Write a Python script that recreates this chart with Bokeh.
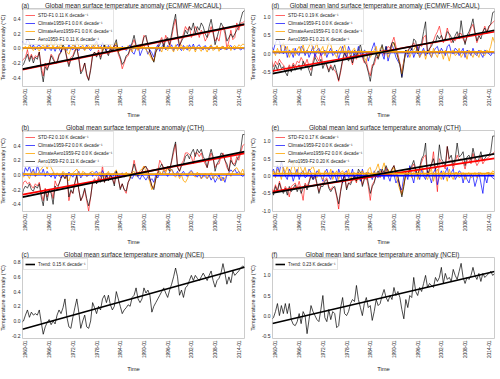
import numpy as np
from bokeh.plotting import figure
from bokeh.models import FixedTicker, PrintfTickFormatter, Legend, LegendItem, Range1d
from bokeh.layouts import column, row
from bokeh.embed import file_html
from bokeh.resources import INLINE

FONT = "Liberation Sans"
TXT = "#262626"

# ---------------- data ----------------
first_year = 1959.0          # half-yearly samples, 1959.0 ... 2015.5
step_years = 0.5
x_limits = (1959.25, 2015.45)
tick_years = [1960, 1966, 1972, 1978, 1984, 1990, 1996, 2002, 2008, 2014]
tick_labels = ["1960-01", "1966-01", "1972-01", "1978-01", "1984-01",
               "1990-01", "1996-01", "2002-01", "2008-01", "2014-01"]

# (a) ECMWF-McCAUL global
a_std = [-0.18,-0.15,-0.12,-0.02,-0.15,-0.08,-0.15,-0.10,-0.12,-0.05,-0.25,-0.38,
         -0.20,-0.28,-0.20,-0.08,-0.12,-0.20,-0.18,-0.08,-0.05,0.02,-0.02,-0.12,
         -0.22,-0.12,-0.10,-0.02,0.00,-0.12,-0.32,-0.28,-0.20,-0.38,-0.43,-0.28,
         -0.08,-0.05,-0.10,-0.02,-0.12,0.00,0.02,-0.05,-0.08,0.00,-0.02,0.05,
         0.03,-0.08,-0.15,-0.28,-0.20,-0.12,-0.10,-0.02,0.05,0.12,0.03,-0.02,
         0.00,0.05,0.18,0.15,0.05,-0.05,-0.12,-0.17,-0.05,0.02,0.10,0.15,
         0.05,0.18,0.12,0.02,0.15,0.30,0.40,0.15,0.02,0.12,0.20,0.30,
         0.25,0.30,0.15,0.20,0.30,0.25,0.15,0.25,0.20,0.10,0.15,0.20,
         0.30,0.20,0.10,0.15,0.10,0.25,0.30,0.20,0.00,0.10,0.25,0.12,
         0.15,0.35,0.25,0.35,0.35,0.38]
a_clim = [0.10,0.08,0.05,0.13,0.08,0.00,0.05,-0.02,0.03,0.05,0.00,0.02,
          -0.03,0.04,0.00,-0.03,0.02,-0.04,0.03,0.00,-0.05,0.02,0.00,-0.03,
          0.05,0.00,-0.02,0.04,0.00,-0.03,0.03,0.00,-0.02,0.05,0.00,-0.03,
          0.02,0.06,0.10,0.03,0.00,0.08,0.02,-0.03,0.04,0.00,-0.04,0.03,
          0.05,0.00,-0.02,0.03,0.00,-0.03,0.02,0.05,-0.05,-0.08,0.00,0.05,
          -0.10,-0.03,0.02,0.00,-0.08,-0.02,-0.06,-0.12,0.00,0.05,-0.04,0.02,
          0.06,-0.02,0.04,0.00,0.05,-0.03,0.02,0.06,0.00,-0.03,0.04,0.00,
          -0.02,0.05,0.00,0.06,-0.02,0.03,0.05,0.00,-0.02,0.04,0.00,-0.02,
          0.04,0.00,-0.01,0.03,0.00,-0.02,0.03,0.00,-0.02,0.02,0.04,0.00,
          -0.02,0.02,0.00,-0.02,0.00,-0.01]
a_climaero = [-0.05,0.00,0.03,-0.02,0.05,0.00,-0.03,0.02,0.00,-0.04,0.02,0.05,
              0.00,0.07,0.03,0.10,0.00,0.10,0.05,0.00,0.08,-0.02,0.02,-0.05,
              -0.08,0.00,0.05,0.02,0.12,0.03,0.00,0.05,-0.03,0.02,0.04,0.00,
              0.06,0.02,0.08,0.00,0.03,-0.03,0.05,0.02,0.00,0.04,-0.02,0.03,
              0.08,-0.05,-0.03,0.00,0.02,-0.02,0.04,0.00,-0.05,0.05,0.00,-0.03,
              0.06,0.02,0.04,-0.02,-0.05,-0.10,-0.15,-0.18,-0.03,0.02,0.00,-0.05,
              0.05,0.00,-0.03,0.04,0.00,-0.05,0.05,-0.03,0.02,0.05,-0.03,0.02,
              0.04,-0.04,0.00,0.03,-0.05,0.02,0.00,-0.04,0.03,0.00,-0.05,0.02,
              0.05,-0.03,0.00,0.04,-0.04,0.02,0.03,-0.02,0.00,0.05,-0.03,0.02,
              0.04,0.00,0.05,0.03,0.06,0.05]
a_aero = [-0.25,-0.22,-0.15,-0.08,-0.18,-0.10,-0.20,-0.12,-0.15,-0.05,-0.30,-0.46,
          -0.25,-0.30,-0.22,-0.10,-0.15,-0.20,-0.20,-0.10,-0.05,0.05,0.00,-0.15,
          -0.25,-0.15,-0.12,-0.05,0.02,-0.15,-0.35,-0.30,-0.20,-0.35,-0.44,-0.30,
          -0.10,-0.05,-0.12,-0.05,-0.15,-0.05,0.05,-0.05,-0.10,0.00,-0.05,0.05,
          0.12,-0.05,-0.12,-0.22,-0.18,-0.10,-0.08,0.00,0.08,0.18,0.05,0.00,
          0.02,0.05,0.15,0.18,0.05,-0.05,-0.12,-0.19,-0.05,0.00,0.05,0.12,
          0.02,0.12,0.15,0.05,0.20,0.35,0.47,0.20,0.04,0.10,0.15,0.25,
          0.20,0.30,0.25,0.35,0.20,0.30,0.25,0.35,0.30,0.20,0.15,0.30,
          0.40,0.25,0.05,0.15,0.25,0.35,0.30,0.25,0.10,0.15,0.20,0.15,
          0.20,0.25,0.30,0.40,0.50,0.52]

# (b) CTH global
b_std = [-0.20,-0.10,-0.08,-0.12,-0.10,-0.15,-0.18,-0.12,-0.15,-0.10,-0.25,-0.35,
         -0.18,-0.30,-0.20,-0.20,-0.32,-0.08,-0.15,-0.12,-0.03,0.00,-0.05,0.00,
         -0.35,-0.22,-0.25,-0.12,-0.02,-0.20,-0.35,-0.30,-0.20,-0.35,-0.49,-0.30,
         -0.10,-0.05,-0.12,-0.02,-0.08,0.13,-0.10,0.02,-0.05,0.00,-0.05,-0.12,
         0.03,-0.05,-0.18,-0.12,-0.20,-0.25,-0.10,-0.03,0.05,0.20,0.08,0.00,
         0.00,0.05,0.12,0.10,0.08,-0.05,-0.15,-0.18,-0.05,0.05,0.20,0.15,
         0.10,0.05,0.12,0.08,0.18,0.30,0.42,0.12,0.05,0.15,0.20,0.30,
         0.30,0.28,0.25,0.15,0.30,0.30,0.25,0.30,0.20,0.15,0.10,0.20,
         0.30,0.22,0.10,0.15,0.15,0.25,0.30,0.20,0.10,0.05,0.25,0.15,
         0.15,0.25,0.20,0.30,0.40,0.42]
b_clim = [0.05,0.00,0.10,0.05,0.12,0.02,0.08,-0.02,0.13,0.05,0.00,0.08,
          -0.02,0.05,0.00,-0.03,0.03,-0.05,0.02,0.00,-0.04,0.03,0.00,-0.02,
          0.04,0.00,-0.03,0.02,0.00,0.05,-0.04,0.00,0.03,-0.02,0.00,0.04,
          -0.02,0.03,0.05,0.00,-0.02,0.06,0.00,-0.03,0.03,0.00,-0.04,0.02,
          0.05,-0.02,0.00,0.03,-0.03,0.00,0.02,-0.02,-0.05,0.00,0.03,-0.03,
          -0.06,0.00,-0.03,-0.07,-0.02,-0.08,-0.05,-0.10,0.00,-0.04,0.03,0.00,
          0.06,0.02,-0.02,0.04,0.08,0.03,0.00,0.05,-0.02,0.02,0.05,0.00,
          -0.02,0.04,0.06,0.02,0.00,-0.03,0.02,-0.05,0.00,-0.02,-0.05,0.00,
          -0.07,-0.02,-0.10,-0.05,0.00,-0.08,-0.03,-0.10,0.00,0.03,0.07,0.04,
          0.08,0.02,0.05,0.00,-0.02,0.00]
b_climaero = [0.00,-0.03,0.02,0.00,-0.05,0.03,0.05,-0.02,0.00,0.05,0.08,0.12,
              0.15,0.08,0.17,0.10,0.05,0.00,0.03,-0.02,0.00,0.05,0.02,-0.05,
              -0.08,0.00,0.03,0.05,0.08,0.02,-0.02,0.05,0.03,-0.02,0.00,0.04,
              0.05,0.02,-0.02,0.03,0.04,0.00,-0.03,0.02,0.05,-0.02,0.00,0.03,
              0.07,-0.03,0.00,0.02,-0.03,0.04,0.00,-0.04,0.03,0.05,-0.02,0.02,
              0.06,0.08,0.12,0.05,0.00,-0.10,-0.20,-0.15,-0.05,0.02,0.05,0.00,
              0.08,0.03,0.10,0.05,0.08,0.00,-0.03,0.03,-0.05,0.00,-0.08,-0.10,
              -0.05,0.02,0.05,0.00,-0.03,0.04,0.00,-0.05,-0.03,0.02,-0.05,0.00,
              0.03,-0.05,0.00,-0.03,-0.06,-0.02,-0.08,-0.04,0.00,0.03,-0.02,0.05,
              0.08,0.10,0.05,0.02,0.08,0.00]
b_aero = [-0.30,-0.20,-0.15,-0.18,-0.12,-0.20,-0.22,-0.15,-0.18,-0.12,-0.30,-0.42,
          -0.20,-0.35,-0.20,-0.25,-0.40,-0.15,-0.20,-0.12,-0.05,0.00,-0.05,0.02,
          -0.30,-0.20,-0.25,-0.10,0.00,-0.20,-0.35,-0.28,-0.18,-0.32,-0.42,-0.30,
          -0.10,-0.08,-0.12,-0.05,-0.10,0.02,-0.10,0.00,-0.08,0.00,-0.05,-0.15,
          0.05,-0.05,-0.20,-0.12,-0.20,-0.22,-0.10,-0.05,0.05,0.15,0.05,-0.02,
          0.02,0.05,0.10,0.12,0.05,-0.05,-0.15,-0.20,-0.05,0.02,0.10,0.15,
          0.08,0.10,0.10,0.05,0.20,0.35,0.45,0.10,0.05,0.12,0.15,0.25,
          0.28,0.22,0.30,0.35,0.25,0.35,0.30,0.35,0.25,0.20,0.10,0.25,
          0.35,0.25,0.05,0.15,0.20,0.30,0.28,0.20,0.15,0.05,0.20,0.15,
          0.12,0.20,0.25,0.35,0.55,0.55]

# (c) NCEI global
c_obs = [-0.02,0.00,0.08,0.15,0.05,0.12,0.08,0.10,0.08,0.15,-0.02,-0.18,
         -0.08,-0.02,0.02,-0.05,0.00,-0.04,0.08,0.15,0.10,0.18,0.30,0.05,
         -0.08,-0.10,0.05,0.18,0.30,0.12,-0.10,0.00,0.08,-0.08,-0.10,0.00,
         0.25,0.18,0.10,0.20,0.15,0.30,0.35,0.25,0.35,0.22,0.15,0.20,
         0.40,0.30,0.20,0.10,0.15,0.18,0.22,0.20,0.32,0.35,0.45,0.30,
         0.25,0.30,0.45,0.38,0.42,0.35,0.12,0.20,0.25,0.30,0.35,0.40,
         0.45,0.38,0.32,0.42,0.50,0.60,0.72,0.60,0.35,0.42,0.32,0.45,
         0.48,0.55,0.62,0.55,0.62,0.58,0.55,0.60,0.65,0.60,0.55,0.62,
         0.68,0.55,0.46,0.55,0.58,0.65,0.78,0.65,0.50,0.60,0.52,0.68,
         0.62,0.65,0.68,0.72,0.75,0.72]

# (d) ECMWF-McCAUL land
d_std = [-0.15,-0.35,-0.20,-0.30,-0.15,-0.25,-0.30,-0.40,-0.45,-0.30,-0.40,-0.25,
         -0.35,-0.20,-0.25,-0.10,-0.20,-0.30,-0.15,-0.35,-0.45,-0.20,0.00,-0.10,
         -0.20,0.05,-0.30,-0.20,-0.35,-0.45,-0.30,-0.40,-0.45,-0.55,-0.75,-0.50,
         -0.20,0.00,0.05,-0.15,-0.10,-0.30,-0.05,-0.15,0.00,0.05,-0.10,-0.25,
         -0.20,-0.45,-0.60,-0.30,-0.30,-0.10,-0.10,0.00,0.10,-0.05,0.10,0.20,
         0.15,0.30,0.45,0.20,0.00,-0.25,-0.50,-0.20,0.05,0.10,0.15,0.20,
         0.30,0.20,0.10,0.25,0.20,0.45,0.50,0.05,0.10,0.30,0.35,0.50,
         0.60,0.75,0.50,0.30,0.45,0.70,0.50,0.30,0.40,0.35,0.50,0.55,
         0.55,0.40,0.30,0.45,0.50,0.70,0.80,0.55,0.30,0.45,0.50,0.60,
         0.75,0.60,0.70,0.80,0.85,0.90]
d_clim = [0.20,0.10,0.30,0.40,0.35,0.10,0.00,0.20,-0.10,0.10,0.05,-0.10,
          0.15,0.00,-0.05,0.20,0.15,-0.05,0.10,-0.10,0.05,0.20,-0.10,0.10,
          0.15,-0.05,0.00,0.10,-0.10,0.05,0.15,-0.05,0.00,0.10,-0.15,0.05,
          0.20,0.00,-0.10,0.20,0.05,-0.15,0.10,-0.05,0.20,0.00,-0.10,0.10,
          0.05,-0.20,0.00,0.15,0.30,0.05,-0.10,0.10,0.00,-0.15,0.20,-0.20,
          0.00,0.25,0.10,-0.10,-0.20,-0.30,-0.62,-0.20,0.10,-0.10,0.05,0.15,
          -0.10,0.05,0.20,-0.10,0.05,0.15,-0.05,0.10,0.00,-0.10,0.05,0.15,
          0.20,0.00,0.15,0.05,-0.05,0.20,0.25,0.05,0.00,0.15,0.10,-0.05,
          0.05,0.15,-0.10,0.10,0.05,-0.05,0.15,0.00,-0.05,0.10,0.00,-0.10,
          0.10,0.05,0.00,-0.05,0.05,0.00]
d_climaero = [0.00,0.10,-0.05,0.15,0.00,0.20,0.30,0.10,0.20,-0.10,0.05,0.15,
              -0.05,0.10,0.20,0.05,0.25,0.00,0.10,0.20,0.35,0.10,0.15,0.30,
              0.00,0.10,0.20,-0.05,0.10,0.30,0.25,0.05,0.00,-0.10,0.10,0.20,
              0.05,0.25,0.00,0.10,-0.10,0.10,0.15,0.00,-0.05,0.10,0.05,-0.10,
              -0.20,0.05,-0.10,0.00,0.10,0.20,-0.10,0.15,0.20,0.00,0.10,-0.10,
              0.05,0.20,0.30,0.10,-0.10,-0.30,-0.55,-0.20,0.00,0.10,-0.10,0.05,
              0.10,0.20,0.05,-0.10,0.00,0.10,-0.15,0.05,0.10,-0.10,0.15,0.00,
              -0.10,0.10,0.05,-0.15,0.10,0.00,-0.20,0.05,0.10,-0.05,0.00,0.15,
              -0.10,0.00,0.05,-0.15,0.10,0.00,-0.10,0.05,0.00,-0.10,0.10,0.00,
              -0.05,0.10,0.05,0.20,0.45,0.30]
d_aero = [-0.20,-0.50,-0.30,-0.45,-0.25,-0.40,-0.35,-0.50,-0.60,-0.35,-0.50,-0.30,
          -0.45,-0.35,-0.30,-0.45,-0.20,-0.35,-0.30,-0.45,-0.60,-0.30,-0.10,-0.20,
          -0.30,-0.15,-0.40,-0.25,-0.30,-0.50,-0.35,-0.45,-0.30,-0.50,-0.72,-0.45,
          -0.15,0.05,-0.10,-0.20,-0.05,-0.25,0.00,-0.10,0.10,0.25,0.00,-0.20,
          -0.30,-0.50,-0.75,-0.40,-0.20,0.00,-0.15,0.05,0.25,0.00,0.20,0.00,
          0.10,0.30,0.30,0.10,-0.10,-0.30,-0.65,-0.30,0.10,0.00,0.20,0.10,
          0.40,0.35,0.00,0.20,0.30,0.60,0.87,0.00,0.15,0.20,0.35,0.30,
          0.50,0.40,0.50,0.35,0.40,0.60,0.55,0.45,0.30,0.50,0.60,0.40,
          0.90,0.50,0.25,0.50,0.60,0.75,0.95,0.60,0.35,0.50,0.40,0.60,
          0.70,0.55,0.75,0.80,1.12,1.15]

# (e) CTH land
e_std = [-0.35,-0.45,-0.25,-0.40,-0.15,-0.35,-0.45,-0.30,-0.40,-0.60,-0.30,-0.25,
         -0.20,-0.35,-0.15,-0.40,-0.70,-0.20,-0.30,-0.15,0.05,-0.05,0.00,-0.25,
         -0.45,-0.25,-0.20,-0.10,-0.05,-0.30,-0.40,-0.30,-0.35,-0.60,-0.95,-0.40,
         -0.10,0.00,-0.35,-0.20,-0.20,0.05,-0.05,-0.20,0.10,0.00,-0.25,-0.05,
         0.00,-0.30,-0.70,-0.25,-0.15,0.00,0.10,-0.05,0.15,0.00,0.25,0.10,
         0.05,0.20,0.30,0.05,-0.05,-0.25,-0.50,-0.25,0.05,0.05,0.15,0.25,
         0.35,0.15,0.05,0.20,0.40,0.55,0.60,0.05,0.15,0.30,0.70,0.10,
         -0.45,0.50,0.40,0.30,0.20,0.85,0.40,0.45,0.20,0.40,0.60,0.45,
         0.50,0.40,0.20,0.45,0.50,0.35,0.65,0.45,0.30,0.40,0.55,0.35,
         0.45,0.50,0.55,0.60,0.65,0.70]
e_clim = [0.10,0.20,0.00,0.30,0.10,0.43,0.20,0.00,-0.10,0.20,0.10,-0.15,
          0.05,0.20,-0.10,0.10,0.15,-0.05,0.00,0.20,0.10,-0.10,-0.05,0.15,
          0.10,0.00,-0.15,0.10,0.20,0.00,-0.10,0.15,0.05,-0.15,0.20,0.05,
          -0.20,0.10,0.15,-0.05,0.00,0.20,-0.10,0.05,0.10,-0.15,0.20,0.00,
          -0.10,0.10,0.05,-0.10,0.15,0.00,-0.05,0.20,0.10,-0.10,0.20,0.00,
          -0.15,0.10,0.05,-0.20,-0.10,-0.30,-0.40,0.00,0.10,-0.10,0.30,0.00,
          -0.20,0.15,0.05,-0.10,0.20,0.00,-0.10,0.15,0.00,-0.20,0.10,0.20,
          -0.25,0.00,0.15,-0.10,0.10,0.25,-0.05,0.10,0.20,-0.10,0.00,0.15,
          0.10,-0.20,0.05,-0.10,-0.20,0.05,0.00,-0.30,-0.10,0.10,-0.20,-0.50,
          0.00,-0.20,0.10,0.00,-0.05,-0.10]
e_climaero = [0.00,0.15,-0.05,0.20,0.10,-0.10,0.25,0.10,0.30,0.00,0.20,0.40,
              0.15,0.00,0.40,0.20,0.10,0.25,0.00,0.15,0.20,0.30,0.10,-0.05,
              0.20,0.00,-0.10,0.15,0.10,0.00,0.20,-0.10,0.05,0.15,-0.10,0.10,
              0.15,0.00,0.05,0.20,-0.10,0.05,0.10,-0.15,0.00,0.10,0.15,-0.05,
              -0.10,0.20,0.25,0.00,0.10,0.20,0.35,0.10,0.20,0.38,0.10,0.20,
              0.00,0.15,0.25,0.00,-0.20,-0.40,-0.55,-0.20,0.00,0.10,0.15,-0.05,
              0.10,0.20,-0.10,0.10,0.30,0.10,0.00,-0.10,0.10,0.20,-0.15,0.10,
              0.20,0.00,-0.10,0.15,0.05,-0.15,0.20,0.00,-0.10,0.10,0.10,-0.05,
              0.00,0.10,-0.10,0.05,0.10,-0.05,0.00,0.10,-0.05,0.05,0.10,0.00,
              0.05,0.10,0.10,0.05,0.15,0.10]
e_aero = [-0.40,-0.55,-0.30,-0.45,-0.20,-0.40,-0.50,-0.35,-0.55,-0.30,-0.45,-0.35,
          -0.25,-0.45,-0.30,-0.50,-0.35,-0.25,-0.40,-0.20,0.00,-0.10,0.05,-0.20,
          -0.50,-0.30,-0.30,-0.15,-0.10,-0.35,-0.45,-0.35,-0.30,-0.55,-0.80,-0.45,
          -0.15,0.05,-0.40,-0.20,-0.25,-0.10,0.00,-0.15,0.20,0.10,-0.30,-0.10,
          0.10,-0.20,-0.50,-0.30,-0.20,0.05,0.15,0.00,0.20,0.10,0.30,0.15,
          0.10,0.20,0.30,0.10,0.00,-0.30,-0.60,-0.30,0.10,0.00,0.20,0.30,
          0.45,0.20,0.00,0.25,0.50,0.60,0.95,0.00,0.20,0.35,0.50,0.20,
          0.30,0.90,0.50,0.40,0.30,0.85,0.50,0.60,0.30,0.50,0.95,0.55,
          0.60,0.70,0.30,0.55,0.60,0.45,0.80,0.55,0.40,0.50,0.70,0.45,
          0.50,0.60,0.60,0.70,1.15,1.15]

# (f) NCEI land
f_obs = [-0.10,-0.05,0.10,0.30,0.00,0.25,0.05,0.30,0.05,0.30,-0.10,-0.22,
         -0.25,-0.15,0.05,-0.20,0.10,0.00,-0.45,-0.10,0.25,0.10,0.00,-0.10,
         -0.15,0.15,0.50,-0.05,-0.15,0.15,-0.10,0.10,0.05,-0.30,-0.25,0.20,
         0.45,0.05,0.00,0.10,0.30,0.40,0.35,0.75,0.40,0.20,0.00,0.30,
         0.45,0.20,0.25,-0.12,0.10,0.40,0.25,0.30,0.50,0.65,0.45,0.35,
         0.50,0.40,0.70,0.50,0.60,0.45,0.15,-0.08,0.40,0.20,0.50,0.45,
         0.95,0.60,0.50,0.70,0.60,0.80,1.00,0.70,0.80,0.75,0.70,0.95,
         0.85,0.95,1.20,0.80,1.05,0.90,0.95,0.85,1.15,1.00,0.90,1.10,
         1.30,0.95,0.80,0.95,0.90,1.00,1.20,1.00,0.90,1.05,0.85,1.05,
         0.95,1.00,1.05,1.10,1.00,1.05]

# legend texts and decadal trends (K / decade)
labels_a = ["STD-F1 0.11 K decade⁻¹", "Climate1959-F1 0.0 K decade⁻¹",
            "ClimateAero1959-F1 0.0 K decade⁻¹", "Aero1959-F1 0.11 K decade⁻¹"]
slopes_a = [0.11, 0.0, 0.0, 0.11]
labels_b = ["STD-F2 0.10 K decade⁻¹", "Climate1959-F2 0.0 K decade⁻¹",
            "ClimateAero1959-F2 0.0 K decade⁻¹", "Aero1959-F2 0.11 K decade⁻¹"]
slopes_b = [0.10, 0.0, 0.0, 0.11]
labels_d = ["STD-F1 0.19 K decade⁻¹", "Climate1959-F1 0.0 K decade⁻¹",
            "ClimateAero1959-F1 0.0 K decade⁻¹", "Aero1959-F1 0.21 K decade⁻¹"]
slopes_d = [0.19, 0.0, 0.0, 0.21]
labels_e = ["STD-F2 0.17 K decade⁻¹", "Climate1959-F2 0.0 K decade⁻¹",
            "ClimateAero1959-F2 0.0 K decade⁻¹", "Aero1959-F2 0.20 K decade⁻¹"]
slopes_e = [0.17, 0.0, 0.0, 0.20]
labels_c = ["Trend: 0.15 K decade⁻¹"]
slopes_c = [0.15]
labels_f = ["Trend: 0.23 K decade⁻¹"]
slopes_f = [0.23]

titles = {
    "a": "Global mean surface temperature anomaly (ECMWF-McCAUL)",
    "b": "Global mean surface temperature anomaly (CTH)",
    "c": "Global mean surface temperature anomaly (NCEI)",
    "d": "Global mean land surface temperature anomaly (ECMWF-McCAUL)",
    "e": "Global mean land surface temperature anomaly (CTH)",
    "f": "Global mean land surface temperature anomaly (NCEI)",
}
# non-breaking spaces between the panel letter and its (visually centred) title
title_gap = {"a": 9, "b": 21, "c": 20, "d": 6, "e": 17, "f": 16}

for s in [a_std, a_clim, a_climaero, a_aero, b_std, b_clim, b_climaero, b_aero, c_obs,
          d_std, d_clim, d_climaero, d_aero, e_std, e_clim, e_climaero, e_aero, f_obs]:
    assert len(s) == 114, len(s)

SER_COLORS = ["#ff0000", "#0000ff", "#ffa500", "#000000"]
SER_ALPHA = [0.6, 0.7, 0.8, 0.65]
TREND_COLORS = ["#ff0000", "#0000ff", "#ffa500", "#000000"]


def make_panel(letter, series, labels, slopes, ylim, yticks, height, btop, bbot,
               time_standoff, obs=False):
    p = figure(width=250, height=height, output_backend="svg", toolbar_location=None,
               x_range=Range1d(*x_limits), y_range=Range1d(*ylim),
               min_border_left=24, min_border_right=2,
               min_border_top=btop, min_border_bottom=bbot)
    p.title.text = "(%s)" % letter + "\u00a0" * title_gap[letter] + titles[letter]
    p.title.align = "left"
    p.title.offset = -1
    p.title.standoff = 0
    p.title.text_font = FONT
    p.title.text_font_size = "6.3px"
    p.title.text_font_style = "normal"
    p.title.text_color = TXT
    p.xgrid.visible = False
    p.ygrid.visible = False
    p.outline_line_color = "#cccccc"
    p.outline_line_width = 1
    for ax in (p.xaxis[0], p.yaxis[0]):
        ax.axis_line_color = None
        ax.major_tick_line_color = None
        ax.minor_tick_line_color = None
        ax.major_tick_in = 0
        ax.major_tick_out = 0
        ax.minor_tick_in = 0
        ax.minor_tick_out = 0
        ax.major_label_text_font = FONT
        ax.major_label_text_color = TXT
        ax.axis_label_text_font = FONT
        ax.axis_label_text_font_style = "normal"
        ax.axis_label_text_color = TXT
    xa = p.xaxis[0]
    xa.ticker = FixedTicker(ticks=tick_years)
    xa.major_label_overrides = {y: l for y, l in zip(tick_years, tick_labels)}
    xa.major_label_orientation = np.pi / 2
    xa.major_label_text_font_size = "4.8px"
    xa.major_label_standoff = 2
    xa.axis_label = "Time"
    xa.axis_label_text_font_size = "5.8px"
    xa.axis_label_standoff = time_standoff
    ya = p.yaxis[0]
    ya.ticker = FixedTicker(ticks=yticks)
    ya.formatter = PrintfTickFormatter(format="%.1f")
    ya.major_label_text_font_size = "5px"
    ya.major_label_standoff = 2
    ya.axis_label = "Temperature anomaly (°C)"
    ya.axis_label_text_font_size = "5.6px"
    ya.axis_label_standoff = 3

    x = first_year + step_years * np.arange(len(series[0]))
    tx = np.array(x_limits)
    legend_rends = []
    if obs:
        p.line(x, series[0], line_color="#000000", line_alpha=0.7, line_width=1.0)
        ys = np.array(series[0])
        ty = ys.mean() + slopes[0] / 10.0 * (tx - x.mean())
        legend_rends.append(p.line(tx, ty, line_color="#000000", line_width=1.6))
    else:
        for ys, col, al in zip(series, SER_COLORS, SER_ALPHA):
            legend_rends.append(p.line(x, ys, line_color=col, line_alpha=al, line_width=1.0))
        for ys, sl, col in zip(series, slopes, TREND_COLORS):
            ty = np.mean(ys) + sl / 10.0 * (tx - x.mean())
            p.line(tx, ty, line_color=col, line_width=1.7)

    leg = Legend(items=[LegendItem(label=l, renderers=[r]) for l, r in zip(labels, legend_rends)],
                 location="top_left", margin=1, padding=1, spacing=0,
                 label_text_font=FONT, label_text_font_size="4.6px", label_text_color=TXT,
                 glyph_width=10, glyph_height=8, label_height=8, label_standoff=3,
                 background_fill_color="white", background_fill_alpha=0.8,
                 border_line_color="#cccccc", border_line_width=0.8)
    p.add_layout(leg)
    return p


pa = make_panel("a", [a_std, a_clim, a_climaero, a_aero], labels_a, slopes_a,
                (-0.523, 0.548), [-0.4, -0.2, 0.0, 0.2, 0.4], 125, 12, 26, 3)
pb = make_panel("b", [b_std, b_clim, b_climaero, b_aero], labels_b, slopes_b,
                (-0.497, 0.605), [-0.4, -0.2, 0.0, 0.2, 0.4], 127, 8, 32, 5)
pc = make_panel("c", [c_obs], labels_c, slopes_c,
                (-0.238, 0.863), [-0.2, 0.0, 0.2, 0.4, 0.6, 0.8], 127, 8, 32, 5, obs=True)
pd_ = make_panel("d", [d_std, d_clim, d_climaero, d_aero], labels_d, slopes_d,
                 (-0.89, 1.23), [-0.5, 0.0, 0.5, 1.0], 125, 12, 26, 3)
pe = make_panel("e", [e_std, e_clim, e_climaero, e_aero], labels_e, slopes_e,
                (-1.02, 1.31), [-1.0, -0.5, 0.0, 0.5, 1.0], 127, 8, 32, 5)
pf = make_panel("f", [f_obs], labels_f, slopes_f,
                (-0.57, 1.446), [-0.5, 0.0, 0.5, 1.0], 127, 8, 32, 5, obs=True)

# offset the page's 8px body margin so the 500x379 layout fills the window
layout = column(row(pa, pd_), row(pb, pe), row(pc, pf), margin=(-4, 0, 0, -4))

with open("out.html", "w") as fh:
    fh.write(file_html(layout, INLINE))
